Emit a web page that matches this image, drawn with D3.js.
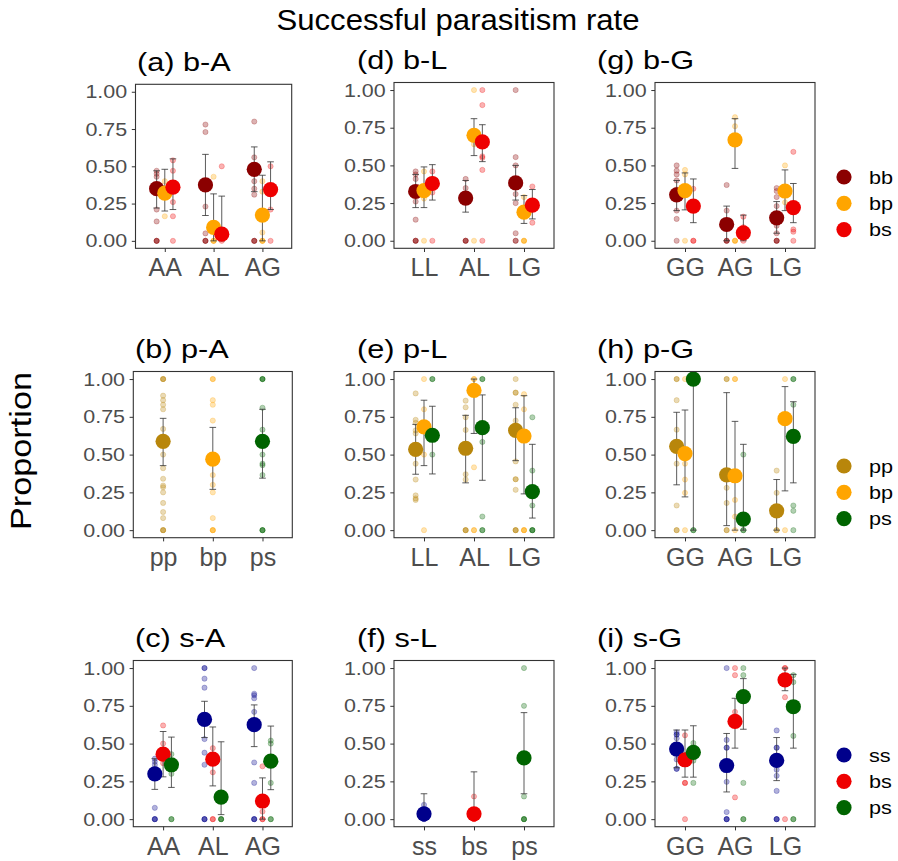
<!DOCTYPE html>
<html><head><meta charset="utf-8">
<script src="https://cdn.jsdelivr.net/npm/d3@7"></script>
<style>body{margin:0;background:#fff} text{font-family:"Liberation Sans",Arial,sans-serif}</style>
</head><body><svg id="chart" width="898" height="861"></svg>
<script>
// ---------- data ----------
const yTickValues = [0, 0.25, 0.5, 0.75, 1];
const yTickLabels = ["0.00", "0.25", "0.50", "0.75", "1.00"];

// (a) b-A
const catsA = ["AA", "AL", "AG"];
const seriesA = ["bb", "bp", "bs"];
const meanA = [[0.35, 0.375, 0.48], [0.32, 0.09, 0.173], [0.36, 0.045, 0.344]];
const loA = [[0.22, 0.17, 0.33], [0.20, 0.0, 0.0], [0.21, 0.0, 0.21]];
const hiA = [[0.47, 0.58, 0.63], [0.48, 0.315, 0.44], [0.55, 0.30, 0.53]];
const rawA = [
  [[0.47, 0.45, 0.43, 0.21, 0.13, 0, 0, 0], [0.78, 0.73, 0.23, 0.05, 0, 0, 0], [0.80, 0.56, 0.40, 0.35, 0.31, 0, 0, 0]],
  [[0.40, 0.165], [0.43, 0, 0, 0], [0.40, 0.33, 0.056, 0, 0, 0]],
  [[0.54, 0.47, 0.26, 0.165, 0], [0.50, 0], [0.50, 0.21, 0]]
];

// (d) b-L
const catsD = ["LL", "AL", "LG"];
const seriesD = ["bb", "bp", "bs"];
const meanD = [[0.327, 0.283, 0.384], [0.333, 0.70, 0.19], [0.38, 0.656, 0.236]];
const loD = [[0.22, 0.19, 0.27], [0.22, 0.565, 0.115], [0.27, 0.525, 0.145]];
const hiD = [[0.44, 0.40, 0.50], [0.49, 0.81, 0.30], [0.505, 0.77, 0.34]];
const rawD = [
  [[0.46, 0.44, 0.41, 0.26, 0.14, 0, 0, 0], [0.41, 0.35, 0, 0, 0], [1.0, 0.555, 0.50, 0.31, 0.25, 0.05, 0, 0]],
  [[0.46, 0.28, 0], [1.0, 0.64, 0], [0.29, 0, 0, 0]],
  [[0.46, 0.41, 0.32, 0], [1.0, 0.90, 0.56, 0.55, 0.47, 0], [0.36, 0.12]]
];

// (g) b-G
const catsG = ["GG", "AG", "LG"];
const seriesG = ["bb", "bp", "bs"];
const meanG = [[0.305, 0.108, 0.152], [0.333, 0.67, 0.33], [0.23, 0.053, 0.22]];
const loG = [[0.20, 0.0, 0.05], [0.205, 0.48, 0.20], [0.12, 0.0, 0.12]];
const hiG = [[0.40, 0.23, 0.26], [0.45, 0.81, 0.47], [0.41, 0.17, 0.38]];
const rawG = [
  [[0.50, 0.465, 0.44, 0.40, 0.34, 0.20, 0.145, 0], [0.37, 0.20, 0, 0, 0], [0.35, 0.33, 0.29, 0.23, 0.10, 0.05, 0, 0, 0]],
  [[0.47, 0.44, 0], [0.82, 0.76, 0, 0, 0], [0.50, 0.255]],
  [[0.345, 0, 0], [0.16, 0.09, 0], [0.59, 0.075, 0.06, 0]]
];

// (b) p-A  (one series per category)
const catsB = ["pp", "bp", "ps"];
const meanB = [0.588, 0.47, 0.588];
const loB = [0.427, 0.27, 0.344];
const hiB = [0.74, 0.68, 0.80];
const rawB = [
  [1, 1, 1, 0.89, 0.86, 0.83, 0.80, 0.67, 0.50, 0.41, 0.34, 0.295, 0.284, 0.25, 0.18, 0.12, 0.08, 0, 0, 0],
  [1, 1, 0.86, 0.83, 0.725, 0.365, 0.30, 0.25, 0.08, 0, 0, 0],
  [1, 1, 1, 0.81, 0.665, 0.50, 0.44, 0.43, 0.365, 0, 0, 0]
];

// (e) p-L
const catsE = ["LL", "AL", "LG"];
const seriesE = ["pp", "bp", "ps"];
const meanE = [[0.535, 0.542, 0.66], [0.683, 0.925, 0.623], [0.628, 0.678, 0.255]];
const loE = [[0.37, 0.313, 0.46], [0.427, 0.64, 0.24], [0.372, 0.33, 0.08]];
const hiE = [[0.70, 0.76, 0.81], [0.86, 1.0, 0.89], [0.82, 0.895, 0.568]];
const rawE = [
  [[0.905, 0.73, 0.71, 0.66, 0.64, 0.44, 0.335, 0.23, 0.21, 0.20], [0.857, 0.813, 0.747, 0.663, 0.37, 0.335, 0, 0, 0], [1.0, 0.91, 0.91, 0.83, 0.725, 0.455, 0.337, 0.337, 0.267, 0, 0, 0]],
  [[1.0, 0.80, 0.50, 0], [1.0, 1.0, 0.416, 0, 0], [0.90, 0.80, 0, 0, 0]],
  [[1.0, 1.0, 0.50], [1.0, 1.0, 0.584, 0.09, 0, 0], [0.747, 0.394, 0.163, 0, 0, 0]]
];

// (h) p-G
const catsH = ["GG", "AG", "LG"];
const seriesH = ["pp", "bp", "ps"];
const meanH = [[0.555, 0.366, 0.128], [0.507, 0.36, 0.738], [1.0, 0.073, 0.62]];
const loH = [[0.30, 0.03, 0.0], [0.22, 0.0, 0.26], [0.0, 0.0, 0.313]];
const hiH = [[0.78, 0.91, 0.335], [0.795, 0.72, 0.95], [1.0, 0.568, 0.85]];
const rawH = [
  [[1.0, 1.0, 0.86, 0.665, 0.44, 0.163, 0, 0], [1.0, 1.0, 0.28, 0.18, 0, 0], [0.394, 0.247, 0, 0]],
  [[1.0, 0.44, 0.335, 0.247, 0], [1.0, 1.0, 0.20, 0.09, 0], [1.0, 0]],
  [[1.0, 0, 0], [0.50, 0, 0], [1.0, 1.0, 0.83, 0.163, 0.128, 0]]
];

// (c) s-A
const catsC = ["AA", "AL", "AG"];
const seriesC = ["ss", "bs", "ps"];
const meanC = [[0.30, 0.66, 0.625], [0.43, 0.397, 0.12], [0.36, 0.146, 0.384]];
const loC = [[0.197, 0.54, 0.48], [0.28, 0.22, 0.0], [0.21, 0.03, 0.195]];
const hiC = [[0.40, 0.78, 0.756], [0.58, 0.61, 0.273], [0.543, 0.512, 0.616]];
const rawC = [
  [[0.40, 0.38, 0.36, 0.075, 0, 0, 0], [1.0, 1.0, 0.93, 0.87, 0.53, 0.44, 0.36, 0, 0, 0], [1.0, 0.83, 0.82, 0.80, 0.71, 0.375, 0.24, 0, 0, 0]],
  [[0.62, 0.50, 0.44, 0.37], [0.47, 0.31, 0, 0], [0.35, 0.05, 0, 0]],
  [[0.43, 0.30, 0, 0], [0, 0, 0], [0.52, 0.50, 0.24, 0, 0]]
];

// (f) s-L  (one series per category)
const catsF = ["ss", "bs", "ps"];
const meanF = [0.035, 0.035, 0.405];
const loF = [0.0, 0.0, 0.168];
const hiF = [0.168, 0.313, 0.705];
const rawF = [[0.095, 0, 0], [0.15, 0, 0], [1.0, 0.75, 0.15, 0, 0, 0]];

// (i) s-G
const catsI = ["GG", "AG", "LG"];
const seriesI = ["ss", "bs", "ps"];
const meanI = [[0.464, 0.355, 0.389], [0.393, 0.647, 0.922], [0.442, 0.811, 0.744]];
const loI = [[0.34, 0.18, 0.255], [0.278, 0.47, 0.85], [0.278, 0.595, 0.47]];
const hiI = [[0.59, 0.567, 0.54], [0.59, 0.80, 1.0], [0.618, 0.93, 0.958]];
const rawI = [
  [[0.575, 0.56, 0.56, 0.535, 0.395, 0.333, 0.333], [1.0, 0.524, 0.473, 0.473, 0.247, 0.047, 0, 0, 0], [0.587, 0.473, 0.473, 0.327, 0.287, 0.187, 0, 0, 0]],
  [[0.555, 0.24, 0.24, 0], [1.0, 0.953, 0.71, 0.144], [1.0, 1.0, 0.807, 0]],
  [[0.504, 0.387, 0.24], [1.0, 0.953, 0.24, 0, 0], [0.953, 0.907, 0.551, 0, 0]]
];

const legendSeries = [["bb", "bp", "bs"], ["pp", "bp", "ps"], ["ss", "bs", "ps"]];

const colors = {bb: "#8B0000", bp: "#FFA500", bs: "#EE0000", pp: "#B8860B", ps: "#006400", ss: "#00008B"};

// ---------- layout ----------
const colX = [[133.3, 292.3], [394, 554], [655, 815]];
const rowY = [[82.5, 248.3], [371.5, 537.7], [660.5, 826.7]];
const titleX = [135, 357, 597];

const panels = [
  {title: "(a) b-A", col: 0, row: 0, cats: catsA, series: seriesA, mean: meanA, lo: loA, hi: hiA, raw: rawA, box: [135.5, 291.7, 84.3, 248.3], tx: 137},
  {title: "(d) b-L", col: 1, row: 0, cats: catsD, series: seriesD, mean: meanD, lo: loD, hi: hiD, raw: rawD},
  {title: "(g) b-G", col: 2, row: 0, cats: catsG, series: seriesG, mean: meanG, lo: loG, hi: hiG, raw: rawG},
  {title: "(b) p-A", col: 0, row: 1, cats: catsB, series: null, mean: meanB, lo: loB, hi: hiB, raw: rawB},
  {title: "(e) p-L", col: 1, row: 1, cats: catsE, series: seriesE, mean: meanE, lo: loE, hi: hiE, raw: rawE},
  {title: "(h) p-G", col: 2, row: 1, cats: catsH, series: seriesH, mean: meanH, lo: loH, hi: hiH, raw: rawH},
  {title: "(c) s-A", col: 0, row: 2, cats: catsC, series: seriesC, mean: meanC, lo: loC, hi: hiC, raw: rawC},
  {title: "(f) s-L", col: 1, row: 2, cats: catsF, series: null, mean: meanF, lo: loF, hi: hiF, raw: rawF},
  {title: "(i) s-G", col: 2, row: 2, cats: catsI, series: seriesI, mean: meanI, lo: loI, hi: hiI, raw: rawI}
];

const svg = d3.select("#chart");
svg.append("rect").attr("width", 898).attr("height", 861).attr("fill", "#fff");

function stretch(sel, f) {
  sel.each(function () {
    const len = this.getComputedTextLength();
    d3.select(this).attr("textLength", len * f).attr("lengthAdjust", "spacingAndGlyphs");
  });
}

const AXIS_GREY = "#4D4D4D";

panels.forEach(p => {
  const [x0, x1, y0, y1] = p.box || [colX[p.col][0], colX[p.col][1], rowY[p.row][0], rowY[p.row][1]];
  const x = d3.scalePoint().domain(p.cats).range([x0, x1]).padding(0.6);
  const y = d3.scaleLinear().domain([-0.05, 1.05]).range([y1, y0]);
  const dodge = x.step() * 0.167;
  const g = svg.append("g");

  // build groups
  const groups = [];
  if (p.series) {
    p.series.forEach((s, si) => p.cats.forEach((c, ci) => groups.push({
      x: x(c) + (si - 1) * dodge, color: colors[s], mean: p.mean[si][ci], lo: p.lo[si][ci], hi: p.hi[si][ci], raw: p.raw[si][ci]
    })));
  } else {
    p.cats.forEach((c, ci) => groups.push({
      x: x(c), color: colors[c], mean: p.mean[ci], lo: p.lo[ci], hi: p.hi[ci], raw: p.raw[ci]
    }));
  }

  // raw points
  groups.forEach(gr => {
    g.selectAll(null).data(gr.raw).enter().append("circle")
      .attr("cx", gr.x).attr("cy", d => y(d)).attr("r", 2.6)
      .attr("fill", gr.color).attr("fill-opacity", 0.3)
      .attr("stroke", gr.color).attr("stroke-opacity", 0.3).attr("stroke-width", 0.8);
  });
  // error bars
  groups.forEach(gr => {
    const eb = g.append("g").attr("stroke", "#333").attr("stroke-opacity", 0.8).attr("stroke-width", 1);
    eb.append("line").attr("x1", gr.x).attr("x2", gr.x).attr("y1", y(gr.lo)).attr("y2", y(gr.hi));
    eb.append("line").attr("x1", gr.x - 3.3).attr("x2", gr.x + 3.3).attr("y1", y(gr.lo)).attr("y2", y(gr.lo));
    eb.append("line").attr("x1", gr.x - 3.3).attr("x2", gr.x + 3.3).attr("y1", y(gr.hi)).attr("y2", y(gr.hi));
  });
  // means
  groups.forEach(gr => {
    g.append("circle").attr("cx", gr.x).attr("cy", y(gr.mean)).attr("r", 7.6).attr("fill", gr.color);
  });

  // border
  g.append("rect").attr("x", x0).attr("y", y0).attr("width", x1 - x0).attr("height", y1 - y0)
    .attr("fill", "none").attr("stroke", "#333").attr("stroke-width", 1.1);

  // y axis
  const ya = g.append("g").attr("transform", `translate(${x0},0)`)
    .call(d3.axisLeft(y).tickValues(yTickValues).tickFormat((d, i) => yTickLabels[i]).tickSize(3.7).tickPadding(4.6));
  ya.select(".domain").remove();
  ya.selectAll(".tick line").attr("stroke", "#333");
  ya.selectAll("text").attr("fill", AXIS_GREY).style("font-size", "19px").style("font-family", '"Liberation Sans", Arial, sans-serif');
  stretch(ya.selectAll("text"), 1.13);

  // x axis
  const xa = g.append("g").attr("transform", `translate(0,${y1})`)
    .call(d3.axisBottom(x).tickSize(3.7).tickPadding(6.5));
  xa.select(".domain").remove();
  xa.selectAll(".tick line").attr("stroke", "#333");
  xa.selectAll("text").attr("fill", AXIS_GREY).style("font-size", "25px").style("font-family", '"Liberation Sans", Arial, sans-serif');

  // title
  const t = g.append("text").attr("x", p.tx || titleX[p.col]).attr("y", y0 - 13.8)
    .attr("fill", "#000").style("font-size", "26px").text(p.title);
  stretch(t, 1.18);
});

// legends
const legendY0 = [177, 466, 755];
legendSeries.forEach((items, r) => {
  const lg = svg.append("g");
  items.forEach((s, i) => {
    const cy = legendY0[r] + i * 26.3;
    lg.append("circle").attr("cx", 844).attr("cy", cy).attr("r", 7.6).attr("fill", colors[s]);
    const t = lg.append("text").attr("x", 869).attr("y", cy + 6.8).style("font-size", "19px").attr("fill", "#000").text(s);
    stretch(t, 1.14);
  });
});

// main title
const mt = svg.append("text").attr("x", 458).attr("y", 30).attr("text-anchor", "middle")
  .style("font-size", "29px").attr("fill", "#000").text("Successful parasitism rate");
mt.attr("textLength", 363).attr("lengthAdjust", "spacingAndGlyphs");

// y axis title
svg.append("text").attr("transform", "translate(31,451) rotate(-90)").attr("text-anchor", "middle")
  .style("font-size", "29px").attr("fill", "#000").attr("textLength", 158).attr("lengthAdjust", "spacingAndGlyphs")
  .text("Proportion");
</script></body></html>
